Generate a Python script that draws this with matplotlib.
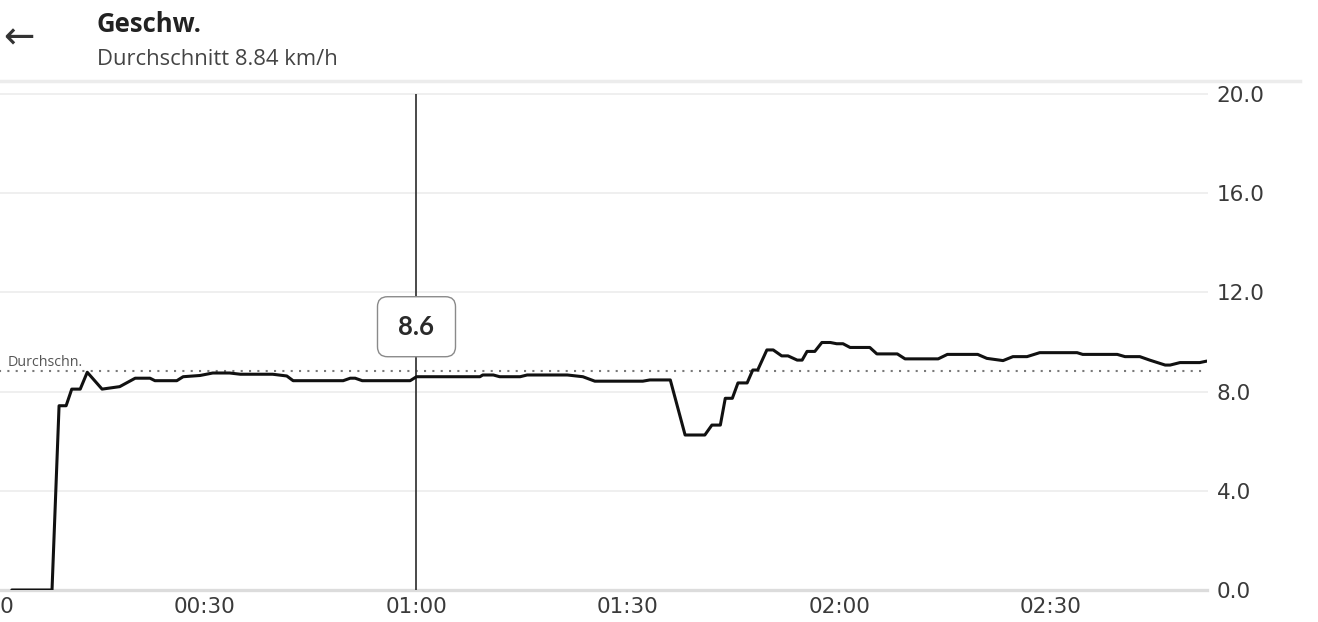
import numpy as np
import matplotlib
matplotlib.use("Agg")
import matplotlib.pyplot as plt
from matplotlib.patches import FancyBboxPatch
from matplotlib.lines import Line2D
import matplotlib.transforms as mtransforms

# ---------------- data ----------------
times_min = [2.6, 8.3, 9.3, 10.3, 11.1, 12.3, 13.3, 15.4, 17.9, 20.1, 22.2, 22.9, 26.0, 26.9,
             29.3, 31.1, 33.5, 35.0, 39.6, 41.6, 42.5, 49.6, 50.6, 51.3, 52.3, 59.1, 60.0,
             69.0, 69.4, 70.9, 71.8, 74.7, 75.7, 81.4, 83.6, 85.3, 92.1, 93.1, 96.0, 98.1,
             100.9, 101.9, 103.1, 103.8, 104.8, 105.6, 106.9, 107.7, 108.4, 109.7, 110.6,
             111.8, 112.7, 114.0, 114.7, 115.4, 116.5, 117.5, 118.7, 119.6, 120.5, 121.5,
             124.3, 125.3, 128.2, 129.3, 134.0, 135.3, 139.6, 140.9, 143.2, 144.6, 146.6,
             148.4, 153.7, 154.5, 159.4, 160.5, 162.6, 164.0, 166.2, 166.9, 168.3, 171.1, 172.1]
speed_kmh = [0.0, 0.0, 7.43, 7.43, 8.1, 8.1, 8.78, 8.1, 8.2, 8.54, 8.54, 8.44, 8.44, 8.6,
             8.65, 8.75, 8.75, 8.7, 8.7, 8.63, 8.44, 8.44, 8.54, 8.54, 8.44, 8.44, 8.6,
             8.6, 8.67, 8.67, 8.6, 8.6, 8.67, 8.67, 8.6, 8.42, 8.42, 8.47, 8.47, 6.25,
             6.25, 6.65, 6.65, 7.73, 7.73, 8.35, 8.35, 8.87, 8.87, 9.68, 9.68,
             9.44, 9.44, 9.27, 9.27, 9.62, 9.62, 9.98, 9.98, 9.93, 9.93, 9.78,
             9.78, 9.52, 9.52, 9.32, 9.32, 9.5, 9.5, 9.34, 9.25, 9.41, 9.41,
             9.57, 9.57, 9.5, 9.5, 9.41, 9.41, 9.27, 9.07, 9.07, 9.17, 9.17, 9.23]
average_kmh = 8.84
cursor_min = 60.0

x_ticks = [0, 30, 60, 90, 120, 150]
x_tick_labels = ["00:00", "00:30", "01:00", "01:30", "02:00", "02:30"]
y_ticks = [0, 4, 8, 12, 16, 20]
y_tick_labels = ["0.0", "4.0", "8.0", "12.0", "16.0", "20.0"]

title = "Geschw."
subtitle = f"Durchschnitt {average_kmh:.2f} km/h"
avg_label = "Durchschn."

# ---------------- figure ----------------
W, H = 1318, 622
fig = plt.figure(figsize=(W / 100, H / 100), dpi=100)
fig.patch.set_facecolor("white")

left_px, right_px, top_px, bottom_px = -6.5, 1207, 94, 590
ax = fig.add_axes([left_px / W, 1 - bottom_px / H, (right_px - left_px) / W, (bottom_px - top_px) / H])
ax.set_facecolor("white")
for s in ax.spines.values():
    s.set_visible(False)

ax.set_xlim(0, 172.13)
ax.set_ylim(0, 20)

# gridlines
for yv in y_ticks:
    if yv == 0:
        ax.axhline(yv, color="#dcdcdc", lw=2.4, zorder=1, clip_on=False)
    else:
        ax.axhline(yv, color="#efefef", lw=1.4, zorder=1, clip_on=False)

# average dotted line
ax.axhline(average_kmh, color="#7a7a7a", lw=1.5, linestyle=(0, (1, 3)), zorder=2)
ax.annotate(avg_label, xy=(14.5 / (right_px - left_px), average_kmh),
            xycoords=mtransforms.blended_transform_factory(ax.transAxes, ax.transData),
            xytext=(0, 3.5), textcoords="offset points", ha="left", va="baseline",
            fontsize=10.3, color="#555555", family="Open Sans", zorder=3)

# cursor line
ax.axvline(cursor_min, color="#3a3a3a", lw=1.3, zorder=3)

# speed line
ax.plot(times_min, speed_kmh, color="#111111", lw=2.2, zorder=4,
        solid_joinstyle="round", solid_capstyle="round")

# tooltip
cursor_val = float(np.interp(cursor_min, times_min, speed_kmh))
trans = fig.dpi_scale_trans + mtransforms.ScaledTranslation(cursor_min, cursor_val, ax.transData)
box_w, box_h, box_off = 0.78, 0.60, 0.50
box = FancyBboxPatch((-box_w / 2, box_off - box_h / 2), box_w, box_h,
                     boxstyle="round,pad=0,rounding_size=0.1", transform=trans,
                     facecolor="white", edgecolor="#8a8a8a", lw=1.0, zorder=6, clip_on=False)
ax.add_patch(box)
ax.text(0, box_off, f"{cursor_val:.1f}", transform=trans, ha="center", va="center",
        fontsize=18.5, fontweight="bold", color="#2a2a2a", family="Lato", zorder=7)

# ticks
ax.set_xticks(x_ticks)
ax.set_xticklabels(x_tick_labels)
ax.set_yticks(y_ticks)
ax.set_yticklabels(y_tick_labels)
ax.yaxis.tick_right()
ax.tick_params(axis="both", length=0, labelsize=15.5, labelcolor="#3a3a3a")
ax.tick_params(axis="x", pad=5)
ax.tick_params(axis="y", pad=7)
for lbl in ax.get_xticklabels() + ax.get_yticklabels():
    lbl.set_family("DejaVu Sans")
for lbl in ax.get_yticklabels():
    lbl.set_horizontalalignment("left")
first = ax.get_xticklabels()[0]
first.set_transform(first.get_transform() + mtransforms.ScaledTranslation(-0.10, 0, fig.dpi_scale_trans))

# header
fig.text(97 / W, 1 - 32 / H, title, ha="left", va="baseline", fontsize=18.5,
         fontweight="bold", color="#222222", family="Open Sans")
fig.text(97 / W, 1 - 65 / H, subtitle, ha="left", va="baseline", fontsize=15.8,
         color="#444444", family="Open Sans")
fig.text(19 / W, 1 - 38 / H, "\u2190", ha="center", va="center", fontsize=27,
         color="#333333", family="DejaVu Sans")
fig.add_artist(Line2D([0, 1300 / W], [1 - 81 / H, 1 - 81 / H], transform=fig.transFigure,
                      color="#ececec", lw=2.5))

fig.savefig("out.png", dpi=100, facecolor="white")
